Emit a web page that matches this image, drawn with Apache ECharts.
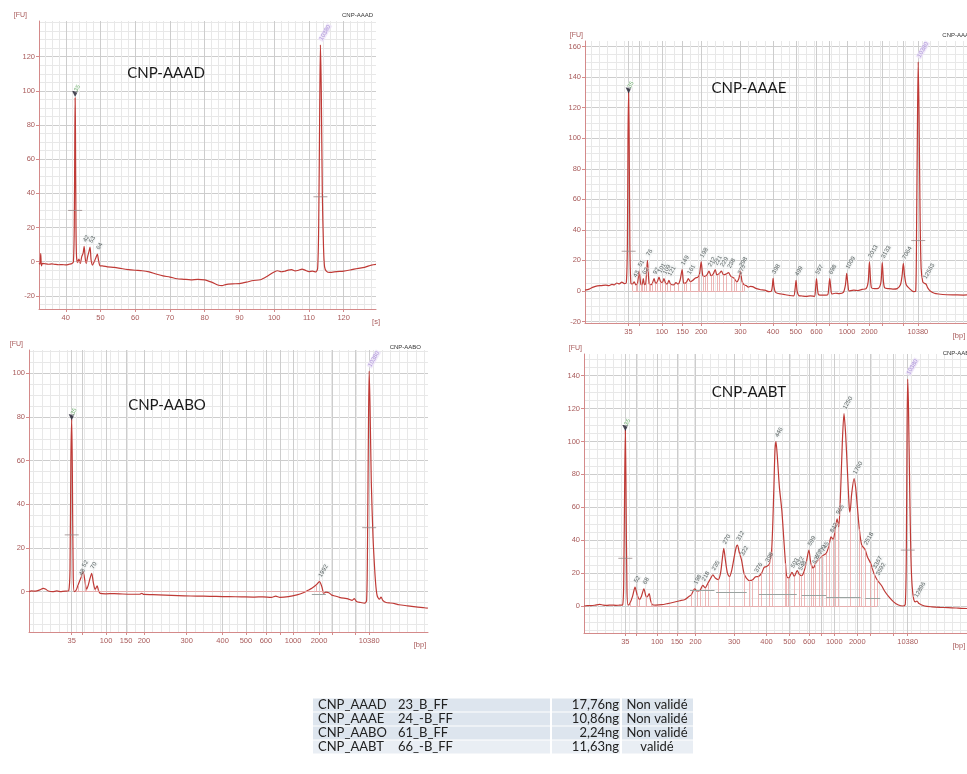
<!DOCTYPE html>
<html>
<head>
<meta charset="utf-8">
<title>Bioanalyzer electropherograms</title>
<script src="https://cdn.jsdelivr.net/npm/echarts@6/dist/echarts.min.js"></script>
<style>
  html, body { margin: 0; padding: 0; background: #ffffff; }
  #chart { width: 967px; height: 774px; }
</style>
</head>
<body>
<div id="chart"></div>
<script>
// ---- Sample names ----
const sampleNames = ['CNP-AAAD', 'CNP-AAAE', 'CNP-AABO', 'CNP-AABT'];

// ---- Time axis ticks (seconds) for the first run ----
const secondTicks = [40, 50, 60, 70, 80, 90, 100, 110, 120];

// ---- Ladder positions (migration time, s) and their sizes (bp) per run ----
const ladderLabels = ['35', '', '100', '150', '200', '300', '400', '500', '600', '', '1000', '2000', '', '', '10380'];
const aaaeLadder = [43, 45.6, 51.1, 56.1, 60.6, 70.1, 78.0, 83.5, 88.5, 91.6, 95.9, 101.3, 104.4, 109.5, 113];
const aaboLadder = [43, 45.4, 51.1, 55.8, 60.0, 70.05, 78.5, 84.0, 88.7, 92.0, 95.1, 101.2, 104.2, 109.7, 113];
const aabtLadder = [43, 45.6, 50.9, 55.8, 60.4, 70.0, 78.0, 83.7, 88.6, 91.6, 94.8, 100.5, 103.8, 109.5, 113];

// ---- Fluorescence traces [time (s), FU] ----
const aaadTrace = [
  [32.3,-1],[32.6,-1.5],[32.8,4.8],[33.0,-2.5],[33.3,-1],[34,-1.2],[35,-1.5],[36,-1.3],[37,-1.6],[38,-1.8],
  [39,-1.7],[40,-1.9],[41,-1.5],[41.8,-1],[42.2,0],[42.45,20],[42.6,70],[42.7,96],[42.8,75],[42.95,20],
  [43.1,3],[43.4,-0.5],[43.8,1.5],[44.2,-1],[44.6,3],[45.0,5],[45.3,9],[45.6,2],[45.9,-1],[46.3,3],
  [46.7,6],[47.0,8.5],[47.3,1],[47.7,-2],[48.2,0],[48.7,2.5],[49.1,4.5],[49.5,0],[49.9,-2.5],[50.5,-2.4],
  [52,-3],[54,-3.3],[56,-4],[58,-4.6],[60,-5],[62,-5.3],[64,-6],[66,-7.2],[68,-8.3],[70,-9],
  [72,-10],[74,-10.3],[76,-10.6],[78,-10.4],[80,-10.6],[82,-12],[84,-13.8],[85,-14],[86,-13.4],[88,-13],
  [90,-12.8],[92,-12],[94,-11],[96,-10.6],[98,-8.5],[100,-6],[101,-5.3],[102,-5.9],[103,-5.6],[104,-4.9],
  [105,-4.6],[106,-5.4],[107,-5],[108,-4.3],[109,-5.1],[110,-5.8],[111,-5.5],[112,-6],[112.5,-4],[112.8,20],
  [113.1,90],[113.3,127],[113.55,100],[113.85,40],[114.2,8],[114.5,-3],[115,-5.5],[116,-6.3],[118,-5.8],[120,-5.5],
  [122,-4.8],[124,-4],[126,-3.3],[128,-2],[129.3,-1.6]
];
const aaaeTrace = [
  [32.5,0.5],[33.5,1.2],[34.5,2.5],[35.5,3.3],[36.5,3.5],[37.5,3.8],[38.3,3.5],[39,4.3],[39.6,4],[40.2,5.2],
  [40.8,4.6],[41.4,5.8],[42,4.8],[42.5,5.5],[42.75,30],[42.9,100],[43.05,130],[43.2,95],[43.35,30],[43.6,5],
  [44.0,4.5],[44.4,6],[44.8,4],[45.2,5],[45.6,13],[46.0,4.5],[46.3,4],[46.6,8],[46.9,4],[47.2,5],
  [47.6,20],[48.0,5],[48.4,4],[48.8,5],[49.2,8],[49.6,5],[50.0,6],[50.4,9],[50.8,6],[51.2,5.5],
  [51.6,8],[52.0,5],[52.4,4.5],[52.8,7],[53.2,4.5],[54.0,4],[54.5,5.5],[55.0,4.5],[55.5,7],[56.0,14],
  [56.4,5],[57.0,5.5],[57.5,8],[58.0,6],[58.6,7],[59.2,8.5],[59.8,9],[60.2,11],[60.6,19],[61.0,10],
  [61.5,9.5],[62.0,10.5],[62.5,13],[63.0,10],[63.5,11],[64,14],[64.4,10.5],[65.0,11.5],[65.5,13],[66.0,10.5],
  [66.6,11],[67.2,12],[67.8,9.5],[68.5,8.5],[69.2,6],[69.7,8],[70.1,13],[70.5,6],[71,4],[71.5,3.5],
  [72,2.5],[72.5,3],[73,2.8],[74,1.5],[75,0.8],[76,0.5],[77,-0.5],[77.6,0],[77.85,4],[78.0,8.3],
  [78.2,3],[78.5,-0.5],[79,-1.5],[80,-2],[81,-2.5],[82,-3],[83,-3.2],[83.3,1],[83.55,7],[83.8,0],
  [84.2,-3],[85,-3.3],[86,-3.6],[87,-3.2],[88,-3.5],[88.25,1],[88.5,8],[88.75,1],[89,-2.5],[90,-2.8],
  [91.2,-2.5],[91.45,2],[91.7,8],[91.95,2],[92.2,-2],[93,-1.5],[94,-1.8],[95,-1],[95.5,4],[95.8,11.5],
  [96.1,4],[96.4,0],[97.5,0.5],[98.5,0.3],[99.5,1],[100.5,1.5],[101.0,6],[101.3,19],[101.55,8],[101.8,2],
  [102.5,1.5],[103.5,1.8],[104.1,6],[104.4,18.5],[104.7,6],[105,2],[106,1.5],[107,1.2],[108,1.5],[108.8,4],
  [109.2,10],[109.5,18],[109.8,10],[110.2,4],[111,1.5],[112,-0.5],[112.5,0],[112.7,40],[112.95,120],[113.1,150],
  [113.3,115],[113.55,50],[113.8,15],[114.2,6],[114.6,5],[115,4.5],[115.4,2],[116,0],[117,-1.5],[118,-2],
  [120,-2.5],[122,-2.6],[124,-2.7],[124.9,-2.6]
];
const aaboTrace = [
  [33,0],[33.5,0.3],[34.5,0.2],[35.5,0.8],[36.3,1.5],[36.8,1.2],[37.5,0.3],[38.5,0],[39.5,0.3],[40.5,0],
  [41.5,0.2],[42.3,0.5],[42.6,10],[42.8,60],[43.0,79],[43.15,55],[43.35,8],[43.6,0],[44.0,0.5],[44.5,3],
  [44.95,5.3],[45.3,7],[45.7,9.2],[46.1,5],[46.5,1],[46.9,3],[47.3,6],[47.7,8.4],[48.1,4],[48.5,1],
  [48.8,2],[49.0,2.7],[49.3,0.5],[49.7,-0.8],[51,-1],[53,-0.9],[55,-1.1],[57,-1.2],[59,-1.2],[59.5,-0.8],
  [60,-1.3],[62,-1.4],[65,-1.6],[68,-1.8],[71,-2],[74,-2.1],[77,-2.2],[80,-2.3],[83,-2.4],[86,-2.5],
  [88,-2.4],[90,-2.6],[91,-2.1],[92,-2.6],[94,-2.3],[96,-1.5],[97.5,-0.5],[98.5,0.5],[99.5,1.5],[100.5,3],
  [101.3,4.6],[101.9,2],[102.3,-0.8],[102.8,-0.2],[103.5,-0.5],[104.2,-1.6],[105,-2],[106,-2.6],[107,-3],[108,-3.3],
  [109,-4],[109.5,-3.2],[110,-4.5],[111,-5],[112,-5.3],[112.4,-4],[112.6,20],[112.85,80],[113.0,101],[113.2,85],
  [113.5,50],[113.9,25],[114.3,10],[114.6,2],[114.9,-2],[115.4,-3.5],[115.8,-2.5],[116.2,-4],[117,-5],[118,-5.2],
  [119,-5.5],[120,-6],[122,-6.5],[124,-7],[126,-7.4],[126.8,-7.6]
];
const aabtTrace = [
  [32.8,0],[33.5,0.3],[34.5,0.2],[35.5,0.5],[36.6,1],[37.5,0.6],[38.5,0.4],[39.5,0.6],[40.7,0.4],[41.5,0.5],
  [42.3,0.6],[42.6,15],[42.85,80],[43.0,107],[43.15,75],[43.4,10],[43.7,0.5],[44.2,2],[44.8,6],[45.4,11.5],
  [45.9,7],[46.5,4],[47.0,6],[47.6,10.5],[48.1,6],[48.4,5.5],[48.9,7.5],[49.3,3],[49.7,0.8],[50.5,0.6],
  [52,0.8],[53.5,1.5],[55,2.3],[56.5,3.2],[57.8,4],[58.6,5.5],[59.4,7],[60.2,10.5],[60.8,9],[61.5,9.5],
  [62.2,12.5],[62.8,11],[63.5,14],[64.2,17],[64.7,19],[65.3,17],[66,16],[66.6,20],[67.1,30],[67.4,35],
  [67.8,28],[68.3,20],[68.8,17.8],[69.4,22],[70.0,30],[70.5,36],[70.8,37],[71.2,33],[71.8,28],[72.4,20],
  [73.0,17],[73.8,15.5],[74.5,15.8],[75.3,17.8],[76.0,18],[76.8,20],[77.4,23.5],[78.0,24],[78.7,25.5],[79.3,35],
  [79.8,70],[80.1,95],[80.35,100],[80.7,90],[81.2,72],[81.8,58],[82.3,40],[82.7,26],[83.0,18],[83.5,17],
  [84.3,20.5],[84.9,18],[85.6,21.5],[86.2,19],[86.7,18.5],[87.3,21],[87.9,27],[88.5,34],[89.0,26],[89.6,23],
  [90.2,26],[91.0,28.5],[91.8,30.5],[92.8,32],[93.5,37],[94.0,42],[94.5,40.5],[95.0,46],[95.5,53],[95.9,48],
  [96.3,65],[96.8,100],[97.2,117],[97.6,105],[98.1,80],[98.5,60],[98.7,57],[99.1,68],[99.7,77.5],[100.1,72],
  [100.5,61],[101.0,47],[101.6,37],[102.4,34.5],[103.0,30],[103.8,26],[104.6,20],[105.4,16],[106.5,12.5],[107.3,9],
  [108.3,5.7],[109.5,2.5],[110.7,0.6],[111.9,0],[112.4,1],[112.65,30],[112.85,110],[113.0,138],[113.2,120],[113.5,70],
  [113.8,30],[114.1,12],[114.5,4],[114.9,2.5],[115.3,3],[115.8,1.5],[117.2,0],[119,-0.5],[121,-0.8],[123,-1],
  [125,-1.2],[126.2,-1.4],[127.7,-1.5]
];

// ---- Called peaks [time (s), FU, size label] ----
const aaadPeaks = [[42.7,97,'35'],[45.3,9,'42'],[47.0,8.5,'53'],[49.1,4.5,'64'],[113.3,127,'10380']];
const aaaePeaks = [
  [43.05,130,'35'],[44.4,6,'43'],[45.6,13,'51'],[46.6,8,'62'],[47.6,20,'76'],[49.2,8,'92'],[50.4,9,'101'],
  [51.6,8,'109'],[52.8,7,'121'],[56.0,14,'149'],[57.5,8,'161'],[60.6,19,'198'],[62.5,13,'212'],[64,14,'221'],
  [65.5,13,'229'],[67.2,12,'238'],[69.7,8,'275'],[70.1,13,'298'],[78.0,8.3,'398'],[83.55,7,'499'],[88.5,8,'597'],
  [91.7,8,'698'],[95.8,11.5,'1009'],[101.3,19,'2013'],[104.4,18.5,'3133'],[109.5,18,'7064'],[113.1,150,'10380'],[114.6,5,'12563']
];
const aaboPeaks = [[43.0,79,'35'],[44.95,5.3,'48'],[45.7,9.2,'52'],[47.7,8.4,'70'],[101.3,4.6,'1992'],[113.0,101,'10380']];
const aabtPeaks = [
  [43.0,107,'35'],[45.4,11.5,'52'],[47.6,10.5,'68'],[60.2,10.5,'198'],[62.2,12.5,'218'],[64.7,19,'235'],
  [67.4,35,'270'],[70.8,37,'312'],[71.8,28,'322'],[75.3,17.8,'376'],[78.0,24,'398'],[80.35,100,'446'],
  [84.3,20.5,'503'],[85.6,21.5,'522'],[86.2,19,'548'],[88.5,34,'599'],[89.6,23,'635'],[90.2,26,'657'],
  [91.0,28.5,'700'],[91.8,30.5,'745'],[94.0,42,'842'],[95.5,53,'965'],[97.2,117,'1250'],[99.7,77.5,'1760'],
  [102.4,34.5,'2518'],[104.6,20,'3367'],[105.4,16,'3592'],[113.0,138,'10380'],[114.9,2.5,'12896']
];

// ---- Peak integration boundaries (times taken from the trace samples) ----
const aaadBounds = [43.4, 44.2, 45.9, 47.7, 49.5];
const aaaeBounds = [44.0, 44.8, 45.2, 46.0, 46.3, 46.9, 47.2, 48.0, 48.4, 48.8, 49.6, 50.0, 50.8, 51.2, 52.0,
  52.4, 53.2, 54.0, 55.0, 56.4, 57.0, 58.0, 59.8, 60.2, 61.0, 61.5, 62.0, 63.0, 63.5, 64.4, 65.0, 66.0, 66.6,
  67.8, 68.5, 69.2, 70.5, 71.0];
const aaboBounds = [44.0, 44.5, 46.1, 46.5, 48.5, 49.3, 100.5, 102.3];
const aabtBounds = [44.2, 45.9, 46.5, 48.1, 49.3, 59.4, 60.8, 61.5, 62.8, 63.5, 66.0, 68.8, 72.4, 73.8, 74.5,
  76.0, 76.8, 78.7, 79.3, 82.7, 83.0, 83.5, 84.9, 86.2, 86.7, 87.3, 89.0, 89.6, 90.2, 91.0, 91.8, 92.8, 93.5,
  94.5, 95.0, 95.9, 98.7, 101.0, 101.6, 102.4, 103.8, 104.6, 105.4];

// ---- Smear region baselines [start (s), end (s), FU] ----
const aaboRegions = [[99.5, 102.8, -1]];
const aabtRegions = [[59.0, 65.1, 9.7], [65.5, 73.1, 8.3], [76.1, 85.5, 7.1], [86.7, 92.8, 6.3], [92.8, 101.3, 5.3], [102.5, 106.2, 4.7]];

// ---- Peak width markers (half height) [time (s), FU] ----
const aaadHalf = [[42.7,30],[113.3,38]];
const aaaeHalf = [[43.05,26],[113.1,33]];
const aaboHalf = [[43.0,26],[113.0,29.3]];
const aabtHalf = [[43.0,29],[113.0,34]];

// ---- Quantification table ----
const tableSamples = ['CNP_AAAD', 'CNP_AAAE', 'CNP_AABO', 'CNP_AABT'];
const tableRuns = ['23_B_FF', '24_-B_FF', '61_B_FF', '66_-B_FF'];
const tableAmounts = ['17,76ng', '10,86ng', '2,24ng', '11,63ng'];
const tableStatus = ['Non validé', 'Non validé', 'Non validé', 'validé'];

// ---- Layout of the four plots ----
const panels = [
  { name: sampleNames[0], trace: aaadTrace, peaks: aaadPeaks, half: aaadHalf, bounds: aaadBounds, regions: [],
    grid: { left: 39, top: 21, width: 337, height: 288 },
    x: [32.3, 129.3], y: [-27.7, 140.9], yLabels: [-20, 0, 20, 40, 60, 80, 100, 120],
    xTicks: secondTicks, xLabels: secondTicks.map(String), unit: '[s]', unitGap: 0,
    title: [166, 73], corner: [373, 15], fuPad: [0, 12, 0, 0], dotted: true },
  { name: sampleNames[1], trace: aaaeTrace, peaks: aaaePeaks, half: aaaeHalf, bounds: aaaeBounds, regions: [],
    grid: { left: 585, top: 41, width: 388, height: 282 },
    x: [32.5, 124.9], y: [-21, 163.7], yLabels: [-20, 0, 20, 40, 60, 80, 100, 120, 140, 160],
    xTicks: aaaeLadder, xLabels: ladderLabels, unit: '[bp]', unitGap: -8,
    title: [749, 88], corner: [973, 35], fuPad: [0, 2, 0, 0] },
  { name: sampleNames[2], trace: aaboTrace, peaks: aaboPeaks, half: aaboHalf, bounds: aaboBounds, regions: aaboRegions,
    grid: { left: 29, top: 350, width: 399, height: 282 },
    x: [32.95, 126.84], y: [-18.5, 110.7], yLabels: [0, 20, 40, 60, 80, 100],
    xTicks: aaboLadder, xLabels: ladderLabels, unit: '[bp]', unitGap: -8,
    title: [167, 405], corner: [421, 347], fuPad: [0, 6, 0, 0] },
  { name: sampleNames[3], trace: aabtTrace, peaks: aabtPeaks, half: aabtHalf, bounds: aabtBounds, regions: aabtRegions,
    grid: { left: 584, top: 354, width: 389, height: 279 },
    x: [32.75, 127.7], y: [-16.4, 153.2], yLabels: [0, 20, 40, 60, 80, 100, 120, 140],
    xTicks: aabtLadder, xLabels: ladderLabels, unit: '[bp]', unitGap: -8,
    title: [749, 392], corner: [973, 353], fuPad: [0, 2, 0, 0] }
];

const axisRed = '#d48a8a';
const labelRed = '#a85a5a';
const traceColor = '#bf3a36';
const boundColor = '#eaa6a6';
const majorGrid = '#cdcdcd';
const minorGrid = '#e8e8e8';

function steps(lo, hi, step) {
  const out = [];
  for (let v = Math.ceil(lo / step) * step; v <= hi + 1e-9; v += step) out.push(+v.toFixed(3));
  return out;
}

const grids = [], xAxes = [], yAxes = [], series = [], graphics = [];

panels.forEach((p, i) => {
  grids.push(Object.assign({ containLabel: false }, p.grid));

  // fine background grid (index 2i)
  xAxes.push({
    type: 'value', gridIndex: i, min: p.x[0], max: p.x[1], position: 'top',
    axisLine: { show: false }, axisLabel: { show: false },
    axisTick: { show: false, customValues: steps(p.x[0], p.x[1], 2) },
    splitLine: { show: true, lineStyle: { color: minorGrid, width: 1 } }
  });
  yAxes.push({
    type: 'value', gridIndex: i, min: p.y[0], max: p.y[1], position: 'right',
    axisLine: { show: false }, axisLabel: { show: false },
    axisTick: { show: false, customValues: steps(p.y[0], p.y[1], 5) },
    splitLine: { show: true, lineStyle: { color: minorGrid, width: 1 } }
  });

  // labelled axes (index 2i + 1)
  const ticks = p.xTicks, labels = p.xLabels;
  xAxes.push({
    type: 'value', gridIndex: i, min: p.x[0], max: p.x[1], position: 'bottom',
    axisLine: { show: true, onZero: false, lineStyle: { color: axisRed, width: 1 } },
    axisTick: { show: true, length: 3, customValues: ticks, lineStyle: { color: axisRed } },
    axisLabel: {
      customValues: ticks.filter((t, k) => labels[k] !== ''),
      formatter: v => { const k = ticks.indexOf(v); return k >= 0 ? labels[k] : ''; },
      fontSize: 7.5, color: labelRed, margin: 5, fontFamily: 'Liberation Sans'
    },
    splitLine: { show: true, lineStyle: { color: majorGrid, width: 1 } },
    name: p.unit, nameLocation: 'end', nameGap: p.unitGap,
    nameTextStyle: { fontSize: 7.5, color: labelRed, align: 'center', verticalAlign: 'top',
      padding: [9, 0, 0, 0], fontFamily: 'Liberation Sans' }
  });
  yAxes.push({
    type: 'value', gridIndex: i, min: p.y[0], max: p.y[1], position: 'left',
    axisLine: { show: true, onZero: false, lineStyle: { color: axisRed, width: 1 } },
    axisTick: { show: true, length: 3, customValues: p.yLabels, lineStyle: { color: axisRed } },
    axisLabel: { customValues: p.yLabels, fontSize: 7.5, color: labelRed, margin: 4,
      fontFamily: 'Liberation Sans' },
    splitLine: { show: true, lineStyle: { color: majorGrid, width: 1 } },
    name: '[FU]', nameLocation: 'end', nameGap: 2,
    nameTextStyle: { fontSize: 7, color: labelRed, align: 'right', padding: p.fuPad,
      fontFamily: 'Liberation Sans' }
  });

  const xi = 2 * i + 1, yi = 2 * i + 1;

  // integration boundaries: drop lines from the trace sample down to zero
  const boundLines = p.bounds.map(t => {
    const pt = p.trace.find(d => d[0] === t);
    return [{ coord: [t, 0] }, { coord: [t, pt ? pt[1] : 0] }];
  });
  const baseLines = [];
  if (p.bounds.length) {
    baseLines.push([{ coord: [p.bounds[0], 0] }, { coord: [p.bounds[p.bounds.length - 1], 0] }]);
  }
  series.push({
    type: 'line', xAxisIndex: xi, yAxisIndex: yi, data: [], silent: true, z: 2,
    markLine: {
      silent: true, symbol: 'none', animation: false, label: { show: false },
      lineStyle: { color: boundColor, width: 0.8, type: p.dotted ? 'dotted' : 'solid' },
      data: boundLines.concat(baseLines)
    }
  });
  // smear region baselines
  if (p.regions.length) {
    series.push({
      type: 'line', xAxisIndex: xi, yAxisIndex: yi, data: [], silent: true, z: 2,
      markLine: {
        silent: true, symbol: 'none', animation: false, label: { show: false },
        lineStyle: { color: '#9aa3a0', width: 1, type: 'solid' },
        data: p.regions.map(r => [{ coord: [r[0], r[2]] }, { coord: [r[1], r[2]] }])
      }
    });
  }

  series.push({
    type: 'line', xAxisIndex: xi, yAxisIndex: yi, data: p.trace,
    showSymbol: false, symbol: 'none', smooth: 0.25, silent: true, clip: true,
    lineStyle: { color: traceColor, width: 1.2 }, z: 3
  });

  // half-height width markers
  series.push({
    type: 'scatter', xAxisIndex: xi, yAxisIndex: yi, data: p.half, silent: true,
    symbol: 'rect', symbolSize: [14, 1], itemStyle: { color: '#9a8a8a' }, z: 4
  });

  // marker on the lower ladder peak
  series.push({
    type: 'scatter', xAxisIndex: xi, yAxisIndex: yi, data: [p.peaks[0].slice(0, 2)], silent: true,
    symbol: 'triangle', symbolRotate: 180, symbolSize: 6, symbolOffset: [0, -2],
    itemStyle: { color: '#1a1a2a' }, z: 6
  });

  // peak size labels
  series.push({
    type: 'scatter', xAxisIndex: xi, yAxisIndex: yi, silent: true, symbolSize: 0, z: 7,
    data: p.peaks.map(pk => {
      const item = { value: [pk[0], pk[1]], name: pk[2] };
      if (pk[2] === '35') item.label = { color: '#4c9a4c', backgroundColor: 'rgba(255,255,255,0.6)' };
      if (pk[2] === '10380') item.label = { color: '#9b7fd0', backgroundColor: '#ece4f8' };
      return item;
    }),
    label: {
      show: true, formatter: d => d.name, position: 'top', distance: 4, rotate: 60,
      align: 'left', verticalAlign: 'middle', fontSize: 6, color: '#2f3a3a',
      fontFamily: 'Liberation Sans', backgroundColor: 'rgba(235,240,240,0.55)', padding: [0, 1]
    }
  });

  // big sample title
  graphics.push({
    type: 'text', x: p.title[0], y: p.title[1], silent: true, z: 10,
    style: { text: p.name, font: '15px Lato', fill: '#1a1a1a', align: 'center', verticalAlign: 'middle' }
  });
  // small corner name
  graphics.push({
    type: 'text', x: p.corner[0], y: p.corner[1], silent: true, z: 10,
    style: { text: p.name, font: '6px "Liberation Sans"', fill: '#333', align: 'right', verticalAlign: 'middle' }
  });
});

// quantification table
const rowY = [705, 719, 733, 747];
const cellSpans = [[313, 550], [552, 620], [622, 693]];
tableSamples.forEach((s, r) => {
  const fillColor = r < 3 ? '#dde5ee' : '#e9eef4';
  cellSpans.forEach(c => {
    graphics.push({ type: 'rect', silent: true, z: 1,
      shape: { x: c[0], y: rowY[r] - 6.5, width: c[1] - c[0], height: 13 },
      style: { fill: fillColor } });
  });
  const font = '13px Lato';
  graphics.push({ type: 'text', x: 318, y: rowY[r], z: 2, silent: true,
    style: { text: s, font, fill: '#222', align: 'left', verticalAlign: 'middle' } });
  graphics.push({ type: 'text', x: 398, y: rowY[r], z: 2, silent: true,
    style: { text: tableRuns[r], font, fill: '#222', align: 'left', verticalAlign: 'middle' } });
  graphics.push({ type: 'text', x: 619, y: rowY[r], z: 2, silent: true,
    style: { text: tableAmounts[r], font, fill: '#222', align: 'right', verticalAlign: 'middle' } });
  graphics.push({ type: 'text', x: 657, y: rowY[r], z: 2, silent: true,
    style: { text: tableStatus[r], font, fill: '#222', align: 'center', verticalAlign: 'middle' } });
});

const chart = echarts.init(document.getElementById('chart'), null, { renderer: 'canvas' });
chart.setOption({
  backgroundColor: '#ffffff',
  animation: false,
  grid: grids,
  xAxis: xAxes,
  yAxis: yAxes,
  series: series,
  graphic: graphics
});
</script>
</body>
</html>
